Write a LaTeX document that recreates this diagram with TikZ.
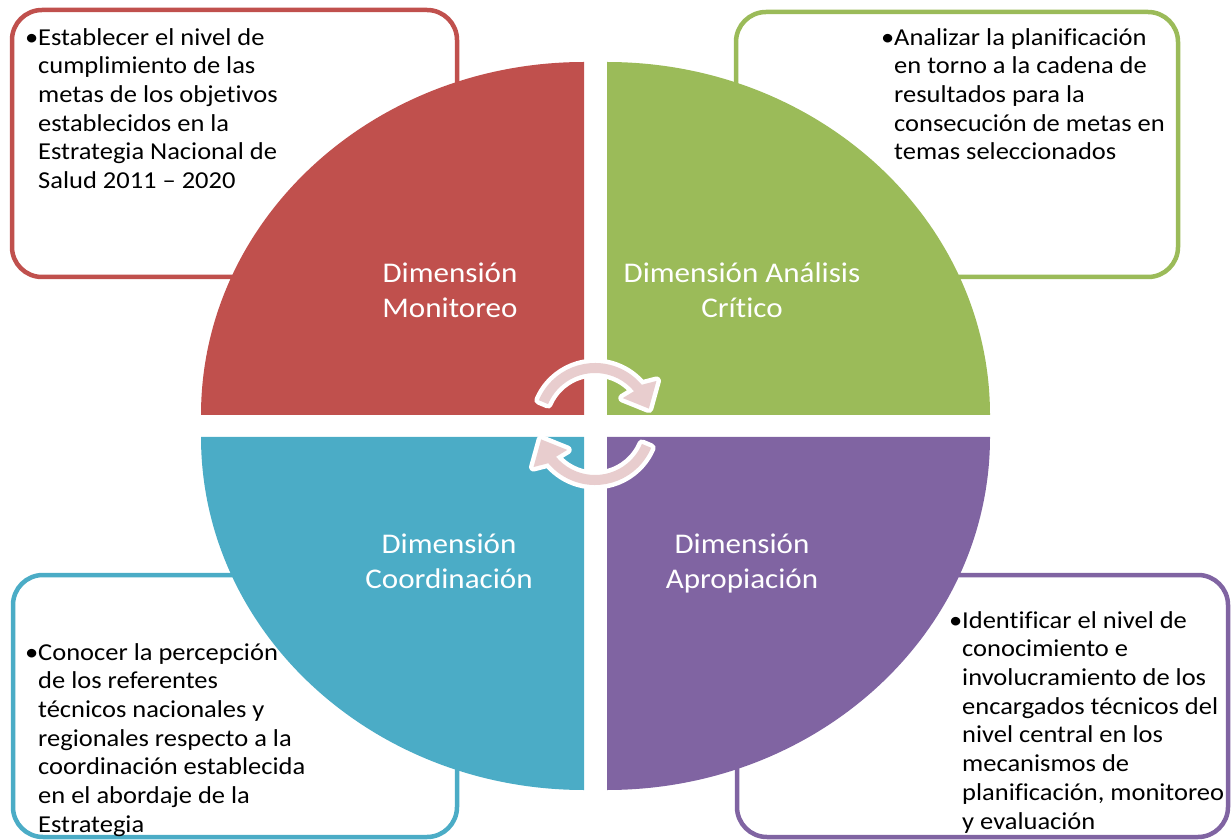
\documentclass[tikz,border=0pt]{standalone}
\usepackage{fontspec}
\setmainfont{Carlito}[FakeStretch=1.09,Ligatures=NoCommon]
\definecolor{monired}{HTML}{C0504D}
\definecolor{analgreen}{HTML}{9BBB59}
\definecolor{coordblue}{HTML}{4BACC6}
\definecolor{apropurple}{HTML}{8064A2}
\definecolor{arrowpink}{HTML}{E8CDCE}

\begin{document}
\begin{tikzpicture}[x=1pt,y=1pt,
            box/.style={draw=#1,line width=4.5pt,rounded corners=30pt,fill=white},
            item text/.style={anchor=north west,inner sep=0pt,align=left,font=\fontsize{24.3}{28.7}\selectfont},
            dim label/.style={anchor=north,inner sep=0pt,align=center,text=white,font=\fontsize{28.5}{35}\selectfont},
            cycle arrow/.style={fill=arrowpink,preaction={draw=white,line width=9pt,line join=round}},
            ]

            \useasboundingbox (0,0) rectangle (1231,839);

            \draw[box=monired] (12,562) rectangle (457,829);
            \draw[box=analgreen] (736,562) rectangle (1178,827);
            \draw[box=coordblue] (13,2) rectangle (457,264);
            \draw[box=apropurple] (737,2) rectangle (1228,264);

            \node[item text] (monitext) at (38,814.1) {\strut\llap{\textbullet}Establecer el nivel de\\cumplimiento de las\\metas de los objetivos\\establecidos en la\\Estrategia Nacional de\\Salud 2011 – 2020};
            \node[item text] (analtext) at (894,814.1) {\strut\llap{\textbullet}Analizar la planificación\\en torno a la cadena de\\resultados para la\\consecución de metas en\\temas seleccionados};
            \node[item text] (coordtext) at (38,199.1) {\strut\llap{\textbullet}Conocer la percepción\\de los referentes\\técnicos nacionales y\\regionales respecto a la\\coordinación establecida\\en el abordaje de la\\Estrategia};
            \node[item text] (aprotext) at (962,231.1) {\strut\llap{\textbullet}Identificar el nivel de\\conocimiento e\\involucramiento de los\\encargados técnicos del\\nivel central en los\\mecanismos de\\planificación, monitoreo\\y evaluación};

            \fill[monired] (584,424) -- (201,424) arc[start angle=180,end angle=90,x radius=383,y radius=353] -- cycle;
            \fill[analgreen] (607,424) -- (607,777) arc[start angle=90,end angle=0,x radius=383,y radius=353] -- cycle;
            \fill[coordblue] (584,402) -- (201,402) arc[start angle=180,end angle=270,x radius=383,y radius=353] -- cycle;
            \fill[apropurple] (607,402) -- (990,402) arc[start angle=0,end angle=-90,x radius=383,y radius=353] -- cycle;

            \node[dim label] (moni) at (450,581.5) {\strut Dimensión\\Monitoreo};
            \node[dim label] (anal) at (742,581.5) {\strut Dimensión Análisis\\Crítico};
            \node[dim label] (coord) at (449,310.5) {\strut Dimensión\\Coordinación};
            \node[dim label] (apro) at (742,310.5) {\strut Dimensión\\Apropiación};

            \foreach \rot in {0,180}
                \path[cycle arrow,shift={(595,415)},rotate=\rot] (157:61) arc[start angle=157,end angle=40,radius=61]
                    -- (35:75) -- (16:56) -- (43:38) -- (40:51) arc[start angle=40,end angle=157,radius=51] -- cycle;
        \end{tikzpicture}
\end{document}
